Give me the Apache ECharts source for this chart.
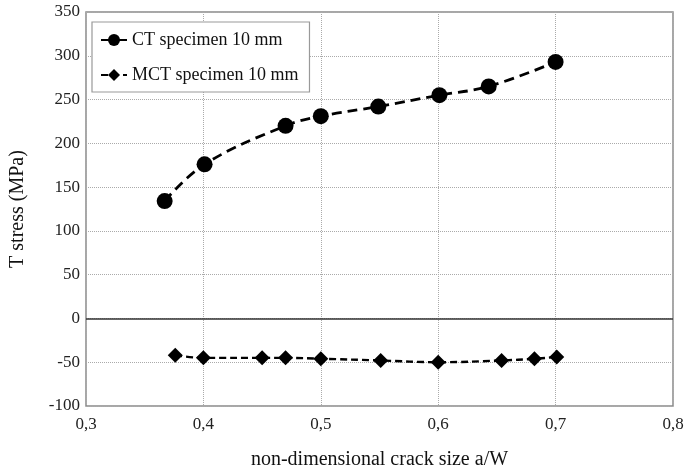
<!DOCTYPE html>
<html><head><meta charset="utf-8">
<script src="https://cdn.jsdelivr.net/npm/echarts@6/dist/echarts.min.js"></script>
<style>html,body{margin:0;padding:0;background:#fff}#c{width:687px;height:475px}</style>
</head><body><div id="c"></div>
<script>
const ctX = [0.367, 0.401, 0.470, 0.500, 0.549, 0.601, 0.643, 0.700];
const ctY = [134, 176, 220, 231, 242, 255, 265, 293];
const mctX = [0.376, 0.400, 0.450, 0.470, 0.500, 0.551, 0.600, 0.654, 0.682, 0.701];
const mctY = [-42, -45, -45, -45, -46, -48, -50, -48, -46, -44];
const xTicks = [0.3, 0.4, 0.5, 0.6, 0.7, 0.8];
const yTicks = [-100, -50, 0, 50, 100, 150, 200, 250, 300, 350];
const seriesNames = ['CT specimen 10 mm', 'MCT specimen 10 mm'];

const font = '"Liberation Serif", "DejaVu Serif", serif';
const chart = echarts.init(document.getElementById('c'));
chart.setOption({
  animation: false,
  grid: {left: 86, right: 14, top: 12, bottom: 66, show: true, borderColor: '#8a8a8a', borderWidth: 1.5},
  legend: {
    left: 92, top: 22, orient: 'vertical', itemGap: 17,
    padding: [9, 11, 8, 8],
    borderColor: '#999', borderWidth: 1.2, backgroundColor: '#fff',
    itemWidth: 26, itemHeight: 15,
    textStyle: {fontFamily: font, fontSize: 18, color: '#111'},
    data: seriesNames
  },
  xAxis: {
    type: 'value', min: xTicks[0], max: xTicks[xTicks.length - 1], interval: 0.1,
    name: 'non-dimensional crack size a/W', nameLocation: 'middle', nameGap: 44,
    nameTextStyle: {fontFamily: font, fontSize: 20, color: '#111'},
    axisLine: {show: false}, axisTick: {show: false},
    axisLabel: {fontFamily: font, fontSize: 17, color: '#222', margin: 10,
      formatter: v => v.toFixed(1).replace('.', ',')},
    splitLine: {show: true, lineStyle: {type: 'dotted', color: '#aaa', width: 1}}
  },
  yAxis: {
    type: 'value', min: yTicks[0], max: yTicks[yTicks.length - 1], interval: 50,
    name: 'T stress (MPa)', nameLocation: 'middle', nameGap: 58,
    nameTextStyle: {fontFamily: font, fontSize: 20, color: '#111'},
    axisLine: {show: false}, axisTick: {show: false},
    axisLabel: {fontFamily: font, fontSize: 17, color: '#222', margin: 6},
    splitLine: {show: true, lineStyle: {type: 'dotted', color: '#aaa', width: 1}}
  },
  series: [
    {
      name: seriesNames[0], type: 'line', smooth: 0.4,
      data: ctX.map((x, i) => [x, ctY[i]]),
      symbol: 'circle', symbolSize: 16,
      itemStyle: {color: '#000'},
      lineStyle: {color: '#000', width: 2.8, type: [10, 6]},
      markLine: {
        silent: true, symbol: 'none', label: {show: false},
        lineStyle: {color: '#333', width: 1.5, type: 'solid'},
        data: [{yAxis: 0}]
      },
      z: 3
    },
    {
      name: seriesNames[1], type: 'line', smooth: 0.4,
      data: mctX.map((x, i) => [x, mctY[i]]),
      symbol: 'diamond', symbolSize: 15,
      itemStyle: {color: '#000'},
      lineStyle: {color: '#000', width: 2.4, type: [7, 4]},
      z: 3
    }
  ]
});
</script></body></html>
